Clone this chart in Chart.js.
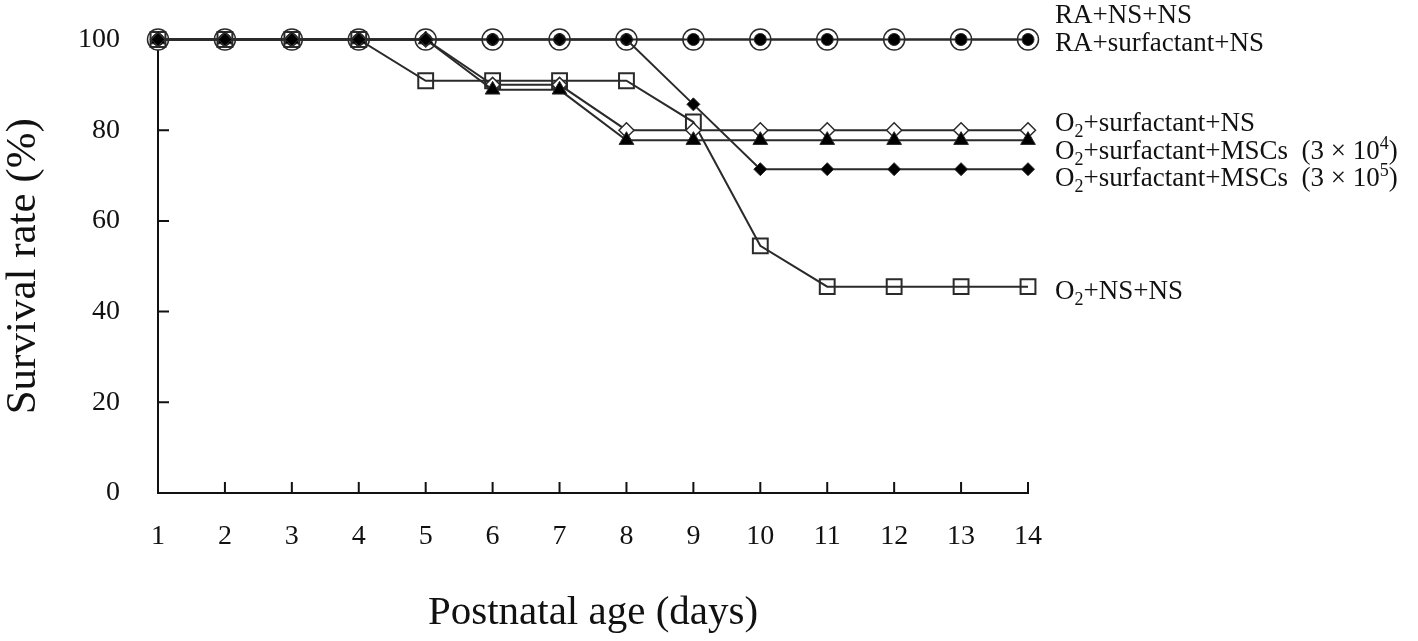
<!DOCTYPE html>
<html>
<head>
<meta charset="utf-8">
<script src="https://cdn.jsdelivr.net/npm/chart.js@4.4.1/dist/chart.umd.min.js"></script>
<style>
  html, body { margin: 0; padding: 0; background: #fff; }
  #wrap { width: 1418px; height: 641px; }
</style>
</head>
<body>
<div id="wrap"><canvas id="c" width="1418" height="641"></canvas></div>
<script>
// ---- data ----
const days = ['1','2','3','4','5','6','7','8','9','10','11','12','13','14'];
const yTicks = [0, 20, 40, 60, 80, 100];

const raNsNs      = [100,100,100,100,100,100,100,100,100,100,100,100,100,100];
const raSurfNs    = [100,100,100,100,100,100,100,100,100,100,100,100,100,100];
const o2SurfNs    = [100,100,100,100,100,90,90,80,80,80,80,80,80,80];
const o2SurfMsc4  = [100,100,100,100,100,88.9,88.9,77.8,77.8,77.8,77.8,77.8,77.8,77.8];
const o2SurfMsc5  = [100,100,100,100,100,100,100,100,85.7,71.4,71.4,71.4,71.4,71.4];
const o2NsNs      = [100,100,100,100,90.9,90.9,90.9,90.9,81.8,54.5,45.5,45.5,45.5,45.5];

// label text ( _x = subscript char, ^x = superscript char )
const seriesLabels = [
  'RA+NS+NS',
  'RA+surfactant+NS',
  'O_2+surfactant+NS',
  'O_2+surfactant+MSCs  (3 × 10^4)',
  'O_2+surfactant+MSCs  (3 × 10^5)',
  'O_2+NS+NS'
];
const xTitle = 'Postnatal age (days)';
const yTitle = 'Survival rate (%)';

// ---- styling / layout (not data) ----
const FONT = '"Liberation Serif", "Times New Roman", serif';
const INK = '#111';
const LINE = '#2a2a2a';
const labelBaselines = [23, 51, 131, 159, 186, 299];
const labelX = 1055;

function rich(ctx, text, x, y, size) {
  let cx = x;
  let i = 0;
  while (i < text.length) {
    const ch = text[i];
    if ((ch === '_' || ch === '^') && i + 1 < text.length) {
      const s = text[i + 1];
      const small = Math.round(size * 0.66);
      ctx.font = small + 'px ' + FONT;
      const dy = ch === '_' ? size * 0.22 : -size * 0.38;
      ctx.fillText(s, cx, y + dy);
      cx += ctx.measureText(s).width;
      i += 2;
    } else {
      let j = i;
      while (j < text.length && text[j] !== '_' && text[j] !== '^') j++;
      const run = text.slice(i, j);
      ctx.font = size + 'px ' + FONT;
      ctx.fillText(run, cx, y);
      cx += ctx.measureText(run).width;
      i = j;
    }
  }
}

const decor = {
  id: 'decor',
  beforeDatasetsDraw(chart) {
    const ctx = chart.ctx;
    const xs = chart.scales.x, ys = chart.scales.y;
    const area = chart.chartArea;
    ctx.save();
    ctx.strokeStyle = INK;
    ctx.lineWidth = 2;
    ctx.beginPath();
    days.forEach((d, i) => {
      if (i === 0) return;
      const px = xs.getPixelForValue(i);
      ctx.moveTo(px, area.bottom);
      ctx.lineTo(px, area.bottom - 11);
    });
    yTicks.forEach(v => {
      if (v === 0) return;
      const py = ys.getPixelForValue(v);
      ctx.moveTo(area.left, py);
      ctx.lineTo(area.left + 11, py);
    });
    ctx.stroke();
    ctx.restore();
  },
  afterDraw(chart) {
    const ctx = chart.ctx;
    ctx.save();
    ctx.fillStyle = INK;
    ctx.textBaseline = 'alphabetic';
    ctx.textAlign = 'left';
    seriesLabels.forEach((t, i) => rich(ctx, t, labelX, labelBaselines[i], 27));
    ctx.restore();
  }
};

const base = { borderColor: LINE, borderWidth: 2, tension: 0, clip: false, pointBorderColor: LINE };

new Chart(document.getElementById('c'), {
  type: 'line',
  data: {
    labels: days,
    datasets: [
      Object.assign({}, base, { label: seriesLabels[4], data: o2SurfMsc5, pointStyle: 'rectRot', pointRadius: 6.5, pointBackgroundColor: '#000', pointBorderWidth: 1 }),
      Object.assign({}, base, { label: seriesLabels[3], data: o2SurfMsc4, pointStyle: 'triangle', pointRadius: 8.5, pointBackgroundColor: '#000', pointBorderWidth: 1 }),
      Object.assign({}, base, { label: seriesLabels[2], data: o2SurfNs, pointStyle: 'rectRot', pointRadius: 7.5, pointBackgroundColor: '#fff', pointBorderWidth: 1.5 }),
      Object.assign({}, base, { label: seriesLabels[5], data: o2NsNs, pointStyle: 'rect', pointRadius: 10.5, pointBackgroundColor: 'rgba(255,255,255,0)', pointBorderWidth: 2 }),
      Object.assign({}, base, { label: seriesLabels[1], data: raSurfNs, pointStyle: 'circle', pointRadius: 6, pointBackgroundColor: '#000', pointBorderWidth: 1 }),
      Object.assign({}, base, { label: seriesLabels[0], data: raNsNs, pointStyle: 'circle', pointRadius: 10.5, pointBackgroundColor: '#fff', pointBorderWidth: 1.5 })
    ]
  },
  options: {
    responsive: false,
    animation: false,
    layout: { padding: { left: 0, top: 39.5, right: 390, bottom: 0 } },
    plugins: { legend: { display: false }, tooltip: { enabled: false } },
    scales: {
      x: {
        type: 'category',
        offset: false,
        grid: { display: false, drawTicks: false, offset: false },
        border: { display: true, color: INK, width: 2 },
        ticks: { color: INK, font: { family: FONT, size: 28 }, padding: 27, maxRotation: 0, autoSkip: false },
        title: { display: true, text: xTitle, color: INK, font: { family: FONT, size: 41, lineHeight: 1 }, padding: { top: 0, bottom: 7.5 } },
        afterFit(s) { s.height = 148; s.paddingLeft = 0; s.paddingRight = 0; }
      },
      y: {
        min: 0, max: 100,
        grid: { display: false, drawTicks: false },
        border: { display: true, color: INK, width: 2 },
        ticks: { stepSize: 20, color: INK, font: { family: FONT, size: 28 }, padding: 38 },
        title: { display: true, text: yTitle, color: INK, font: { family: FONT, size: 43, lineHeight: 1 }, padding: { top: 2.5, bottom: 0 } },
        afterFit(s) { s.width = 158; s.paddingTop = 0; s.paddingBottom = 0; }
      }
    }
  },
  plugins: [decor]
});
</script>
</body>
</html>
